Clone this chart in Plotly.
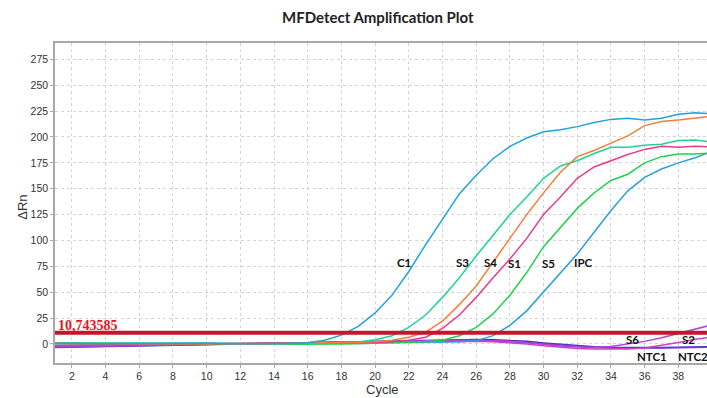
import plotly.graph_objects as go

cycles = list(range(1, 41))

C1 = [0.5, 0.3, 0.2, 0.3, 0.5, 0.6, 0.5, 0.4, 0.5, 0.6, 0.3, 0.2, 0.3, 0.5, 0.7, 1.2, 3.5, 8.5, 17, 30,
      47, 70, 96, 121, 145, 163, 179, 191, 199, 205, 207, 210, 214, 217, 218, 216.5, 218, 222, 223.5, 222.5]
S3 = [1.2, 1.0, 0.8, 0.6, 0.4, 0.3, 0.3, 0.4, 0.6, 0.8, 0.5, 0.2, 0.0, -0.2, 0.2, 0.5, 0.8, 1.2, 2, 4,
      8, 16, 28, 45, 64, 85, 105, 125, 142, 160, 172, 177, 184, 190, 190, 192, 193, 196.5, 197, 195]
S4 = [0.5, 0.6, 0.7, 0.6, 0.5, 0.3, 0.2, 0.1, 0.0, 0.0, 0.1, 0.2, 0.3, 0.5, 0.6, 0.8, 1.0, 1.3, 1.6, 2.2,
      3.5, 6.5, 11.5, 22, 38, 56, 79, 102, 125, 146, 166, 181, 187, 194, 201, 211, 215, 216.5, 218, 220]
S1 = [-1.5, -1.2, -1.0, -0.8, -0.6, -0.4, -0.2, 0.0, 0.1, 0.2, 0.3, 0.4, 0.5, 0.6, 0.7, 0.8, 0.9, 1.0, 1.2, 1.5,
      2.2, 3.5, 6.5, 15, 28, 45, 64, 82, 102, 125, 142, 160, 171, 177, 183, 188, 191, 190, 191, 190.5]
S5 = [0.5, 0.4, 0.3, 0.2, 0.1, 0.0, -0.2, -0.3, -0.2, 0.0, 0.2, 0.3, 0.2, 0.0, -0.2, -0.3, -0.2, 0.0, 0.3, 0.6,
      1.0, 1.5, 2.2, 3.5, 8, 16, 29, 47, 69, 94, 113, 131, 146, 158, 164, 175, 181, 183.6, 183.6, 184.5]
IPC = [0.8, 0.7, 0.6, 0.5, 0.4, 0.4, 0.5, 0.6, 0.7, 0.8, 0.6, 0.4, 0.3, 0.2, 0.3, 0.4, 0.5, 0.6, 0.8, 1.0,
       1.2, 1.4, 1.6, 1.8, 2.2, 3.0, 8, 18, 32, 50, 68, 87, 108, 129, 148, 161, 169, 175, 180, 186]
S6 = [-3.0, -2.8, -2.5, -2.2, -1.9, -1.6, -1.3, -1.0, -0.7, -0.4, -0.1, 0.2, 0.5, 0.8, 1.1, 1.4, 1.7, 2.0, 2.3, 2.6,
      2.9, 3.1, 3.3, 3.5, 3.6, 3.6, 3.3, 2.6, 1.2, -0.5, -2.0, -3.0, -3.5, -2.5, 0.0, 2.5, 6.0, 10.0, 14.0, 18.5]
S2 = [-1.5, -1.4, -1.3, -1.2, -1.0, -0.8, -0.6, -0.4, -0.2, 0.0, 0.2, 0.4, 0.6, 0.8, 1.0, 1.2, 1.4, 1.6, 1.8, 2.0,
      2.2, 2.4, 2.6, 2.8, 2.8, 2.6, 2.2, 1.4, 0.0, -1.8, -3.3, -4.3, -4.9, -5.0, -4.8, -4.0, -1.5, 1.5, 4.5, 6.5]
NTC1 = [-3.5, -3.2, -2.9, -2.6, -2.3, -2.0, -1.7, -1.4, -1.1, -0.8, -0.5, -0.2, 0.2, 0.5, 0.9, 1.3, 1.7, 2.1, 2.5, 2.9,
        3.2, 3.5, 3.8, 4.0, 4.2, 4.2, 4.0, 3.5, 2.5, 1.0, -0.5, -1.8, -2.8, -3.3, -3.5, -3.5, -3.4, -3.2, -2.9, -2.6]
NTC2 = [-2.6, -2.4, -2.2, -2.0, -1.8, -1.6, -1.4, -1.2, -1.0, -0.7, -0.4, -0.1, 0.2, 0.5, 0.8, 1.1, 1.4, 1.7, 2.0, 2.3,
        2.6, 2.9, 3.1, 3.3, 3.4, 3.4, 3.1, 2.5, 1.5, 0.2, -1.2, -2.4, -3.3, -3.8, -4.0, -4.0, -3.8, -3.6, -3.4, -3.2]

series_names = ["NTC1", "NTC2", "S2", "S6", "IPC", "S5", "S1", "S3", "S4", "C1"]
series_values = [NTC1, NTC2, S2, S6, IPC, S5, S1, S3, S4, C1]
series_colors = ["#3b32b8", "#7a36d0", "#d23ec8", "#b044d8", "#27a0dc", "#22d24e",
                 "#e63b8f", "#1fd39a", "#ef7f3a", "#1fa3dc"]

threshold = 10.743585
threshold_label = "10,743585"

# curve label positions (data coords) -- text annotations
label_text = ["C1", "S3", "S4", "S1", "S5", "IPC", "S6", "S2", "NTC1", "NTC2"]
label_x = [21.72, 25.2, 26.87, 28.27, 30.29, 32.36, 35.29, 38.6, 36.46, 38.85]
label_y = [79, 79, 78.3, 78, 78, 79, 3.9, 3.9, -12.2, -12.2]

x_ticks = list(range(2, 40, 2))
y_ticks = list(range(0, 300, 25))

fig = go.Figure()
for name, vals, col in zip(series_names, series_values, series_colors):
    fig.add_trace(go.Scatter(x=cycles, y=vals, mode="lines", name=name,
                             line=dict(color=col, width=1.5), showlegend=False))

fig.add_shape(type="line", xref="paper", x0=0, x1=1, yref="y", y0=threshold, y1=threshold,
              line=dict(color="#c8142a", width=4))

axis_font = dict(family="Liberation Sans, Arial, sans-serif", size=10.5, color="#333333")
common = dict(showgrid=True, gridcolor="#d4d4d4", griddash="3px,3px", gridwidth=1,
              showline=True, linecolor="#a8a8a8", linewidth=1.5,
              ticks="outside", ticklen=3, tickcolor="#a8a8a8", tickfont=axis_font,
              zeroline=False)

fig.update_xaxes(range=[1, 39.7], tickvals=x_ticks, mirror=True, **common)
fig.update_yaxes(range=[-18.4, 290.8], tickvals=y_ticks, mirror=False, **common)

annotations = [
    dict(text="<b>MFDetect Amplification Plot</b>", xref="paper", yref="paper", x=0.4954, y=1.081,
         xanchor="center", yanchor="middle", showarrow=False,
         font=dict(family="Lato, Open Sans, sans-serif", size=15, color="#222222")),
    dict(text="ΔRn", xref="paper", yref="paper", x=-0.051, y=0.4875, textangle=-90,
         xanchor="center", yanchor="middle", showarrow=False,
         font=dict(family="Liberation Sans, Arial, sans-serif", size=13, color="#333333")),
    dict(text="Cycle", xref="paper", yref="paper", x=0.503, y=-0.084,
         xanchor="center", yanchor="middle", showarrow=False,
         font=dict(family="Liberation Sans, Arial, sans-serif", size=13, color="#333333")),
    dict(text="<b>" + threshold_label + "</b>", xref="paper", yref="y", x=0.002, y=17.9,
         xanchor="left", yanchor="middle", showarrow=False,
         font=dict(family="Liberation Serif, Times New Roman, serif", size=14, color="#e8141c")),
]
for t, lx, ly in zip(label_text, label_x, label_y):
    annotations.append(dict(text="<b>" + t + "</b>", xref="x", yref="y", x=lx, y=ly,
                            xanchor="center", yanchor="middle", showarrow=False, borderpad=0,
                            font=dict(family="Lato, Open Sans, sans-serif", size=11.5, color="#111111")))

fig.update_layout(width=707, height=398, margin=dict(l=55, r=0, t=43, b=35),
                  paper_bgcolor="white", plot_bgcolor="white",
                  annotations=annotations)

fig.write_html("out.html", config=dict(displayModeBar=False),
               post_script="document.body.style.margin='0';document.body.style.overflow='hidden';"
                           "document.documentElement.style.overflow='hidden';")
